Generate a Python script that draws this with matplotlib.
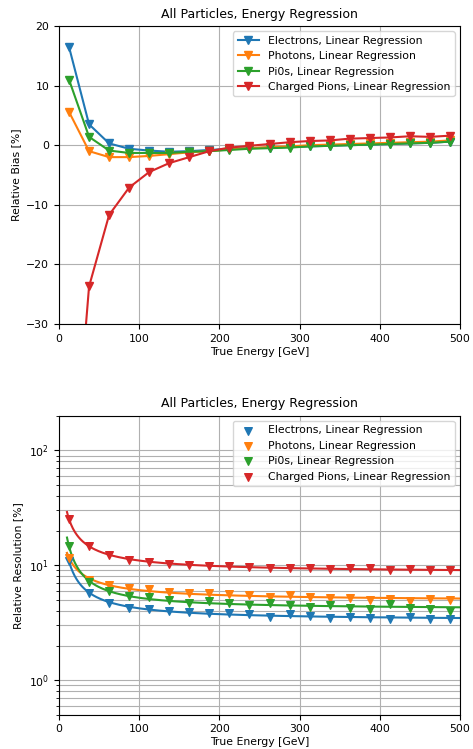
import matplotlib
matplotlib.use("Agg")
import matplotlib.pyplot as plt
import numpy as np

# bin centres [GeV]
energy = np.arange(12.5, 500, 25.0)

labels = [
    "Electrons, Linear Regression",
    "Photons, Linear Regression",
    "Pi0s, Linear Regression",
    "Charged Pions, Linear Regression",
]
colors = ["#1f77b4", "#ff7f0e", "#2ca02c", "#d62728"]

# relative bias [%]
bias_electrons = [16.5, 3.5, 0.3, -0.6, -0.9, -1.1, -1.0, -0.8, -0.6, -0.5,
                  -0.4, -0.3, -0.2, -0.1, 0.0, 0.1, 0.2, 0.3, 0.4, 0.6]
bias_photons = [5.6, -1.0, -2.0, -2.0, -1.8, -1.5, -1.2, -1.0, -0.7, -0.5,
                -0.3, -0.2, 0.0, 0.1, 0.2, 0.3, 0.4, 0.5, 0.6, 0.8]
bias_pi0s = [11.0, 1.4, -0.9, -1.3, -1.3, -1.3, -1.1, -1.0, -0.8, -0.6,
             -0.5, -0.4, -0.2, -0.1, 0.0, 0.1, 0.2, 0.3, 0.4, 0.6]
bias_pions = [-65.0, -23.7, -11.7, -7.1, -4.5, -3.0, -2.0, -1.0, -0.4, -0.1,
              0.2, 0.5, 0.7, 0.8, 1.1, 1.2, 1.3, 1.5, 1.4, 1.6]

# relative resolution [%]
res_electrons = [10.8, 5.77, 4.72, 4.27, 4.19, 4.0, 3.95, 3.81, 3.81, 3.74,
                 3.57, 3.77, 3.6, 3.45, 3.57, 3.47, 3.38, 3.52, 3.38, 3.42]
res_photons = [11.6, 7.5, 6.67, 6.37, 6.16, 5.9, 5.77, 5.69, 5.58, 5.47,
               5.32, 5.53, 5.32, 5.22, 5.15, 4.98, 5.05, 4.88, 5.05, 4.95]
res_pi0s = [14.6, 7.2, 5.95, 5.39, 5.28, 4.97, 4.72, 4.88, 4.66, 4.47,
            4.66, 4.47, 4.36, 4.47, 4.27, 4.19, 4.6, 4.27, 4.15, 3.99]
res_pions = [25.2, 14.8, 12.2, 11.0, 10.7, 10.3, 10.0, 9.9, 9.8, 9.7,
             9.5, 9.5, 9.4, 9.2, 9.4, 9.4, 9.1, 9.3, 9.0, 9.0]

bias_all = [bias_electrons, bias_photons, bias_pi0s, bias_pions]
res_all = [res_electrons, res_photons, res_pi0s, res_pions]


def fit_resolution(e, r):
    """Ajuste sigma^2 = a^2/E + b^2/E^2 + c^2 por minimos cuadrados."""
    A = np.column_stack([1.0 / e, 1.0 / e**2, np.ones_like(e)])
    coef, *_ = np.linalg.lstsq(A, np.asarray(r) ** 2, rcond=None)
    return coef


plt.rcParams["font.size"] = 7.8

fig = plt.figure(figsize=(4.73, 7.49), dpi=100)
ax1 = fig.add_axes([0.1247, 0.5674, 0.8478, 0.3979])
ax2 = fig.add_axes([0.1247, 0.0458, 0.8478, 0.3992])

for vals, c, lab in zip(bias_all, colors, labels):
    ax1.plot(energy, vals, marker="v", ms=5.5, lw=1.5, color=c, label=lab)
ax1.set_xlim(0, 500)
ax1.set_ylim(-30, 20)
ax1.set_yticks([-30, -20, -10, 0, 10, 20])
ax1.grid(True, color="#b0b0b0", lw=0.8)
ax1.set_axisbelow(True)
ax1.set_xlabel("True Energy [GeV]", labelpad=2)
ax1.set_ylabel("Relative Bias [%]")
ax1.set_title("All Particles, Energy Regression", fontsize=9)
ax1.legend(loc="upper right", fontsize=7.8)

e_fine = np.linspace(10, 500, 400)
for vals, c, lab in zip(res_all, colors, labels):
    coef = fit_resolution(energy, vals)
    curve = np.sqrt(np.clip(coef[0] / e_fine + coef[1] / e_fine**2 + coef[2], 0, None))
    ax2.plot(e_fine, curve, color=c, lw=1.5)
    ax2.scatter(energy, vals, marker="v", s=30, color=c, label=lab, zorder=3)
ax2.set_yscale("log")
ax2.set_xlim(0, 500)
ax2.set_ylim(0.5, 200)
ax2.grid(True, which="both", color="#b0b0b0", lw=0.8)
ax2.set_axisbelow(True)
ax2.set_xlabel("True Energy [GeV]", labelpad=2)
ax2.set_ylabel("Relative Resolution [%]")
ax2.set_title("All Particles, Energy Regression", fontsize=9)
ax2.legend(loc="upper right", fontsize=7.8)

fig.savefig("out.png", dpi=100)
